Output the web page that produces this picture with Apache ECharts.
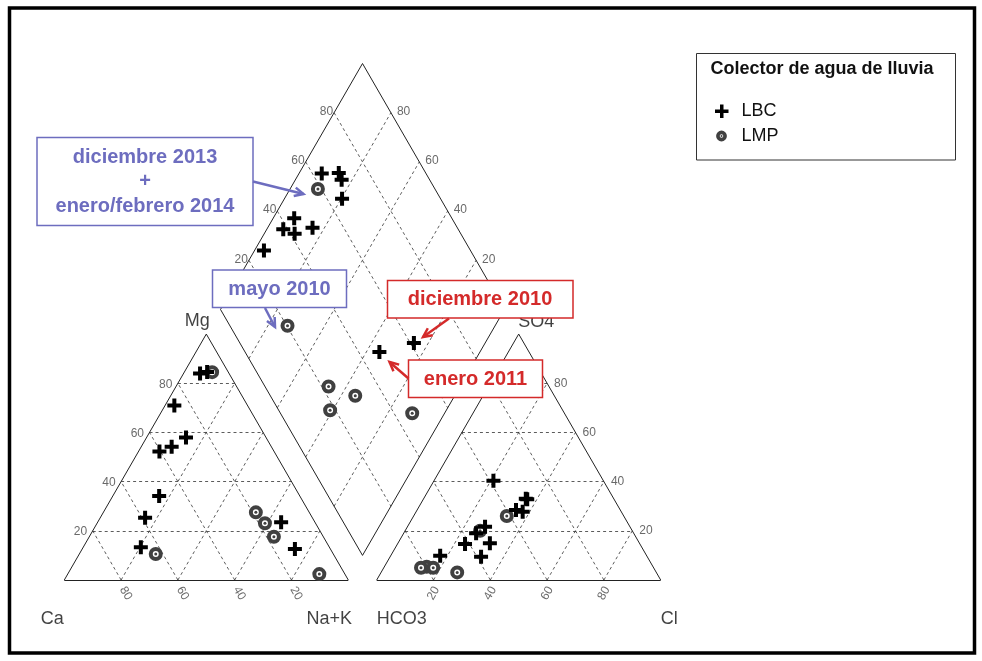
<!DOCTYPE html>
<html>
<head>
<meta charset="utf-8">
<title>Diagrama de Piper - Colector de agua de lluvia</title>
<script src="https://cdn.jsdelivr.net/npm/echarts@6/dist/echarts.min.js"></script>
<style>
  html, body { margin: 0; padding: 0; background: #fff; }
  #chart { width: 982px; height: 661px; }
</style>
</head>
<body>
<div id="chart"></div>
<script>
// Muestras LBC (% meq/L). Ca = 100 - Mg - NaK ; HCO3 = 100 - SO4 - Cl
const lbcMg  = [84.6, 57.9, 34.2, 13.3, 52.2, 84.0, 54.2, 25.3, 70.9, 23.5, 12.6];
const lbcNaK = [8.0, 13.9, 16.3, 20.3, 7.4, 5.8, 10.7, 15.8, 3.3, 64.6, 74.9];
const lbcSO4 = [28.5, 32.8, 33.0, 27.8, 19.0, 14.6, 9.5, 21.7, 9.9, 14.9, 40.4];
const lbcCl  = [34.8, 36.6, 36.0, 37.5, 25.5, 23.8, 32.0, 27.3, 17.4, 32.4, 20.9];

// Muestras LMP
const lmpMg  = [84.5, 10.6, 27.5, 23.1, 17.6, 2.4];
const lmpNaK = [9.8, 26.9, 53.7, 59.1, 65.0, 88.6];
const lmpSO4 = [26.0, 5.4, 5.0, 5.0, 3.1, 20.0];
const lmpCl  = [32.8, 14.9, 17.4, 13.1, 26.8, 26.4];

const tickValues = [20, 40, 60, 80];

// geometria del diagrama (pixeles)
const ORIGIN = [64.3, 580];
const SIDE = 284;
const GAP = 0.1;
const H = Math.sqrt(3) / 2;
const FONT = '"Liberation Sans", Arial, sans-serif';

function toPx(x, y) {
  return [ORIGIN[0] + SIDE * x, ORIGIN[1] - SIDE * y];
}
function cationPt(mg, nak) {
  return toPx(nak / 100 + mg / 200, H * mg / 100);
}
function anionPt(so4, cl) {
  return toPx(1 + GAP + cl / 100 + so4 / 200, H * so4 / 100);
}
function diamondPt(nak, so4, cl) {
  const n = nak / 100, a = (so4 + cl) / 100;
  return toPx((1 + GAP) / 2 + (n + a) / 2, H * (1 + GAP + a - n));
}
function samplePoints(mg, nak, so4, cl) {
  const pts = [];
  mg.forEach(function (m, i) {
    pts.push(cationPt(m, nak[i]));
    pts.push(anionPt(so4[i], cl[i]));
    pts.push(diamondPt(nak[i], so4[i], cl[i]));
  });
  return pts;
}
function seg(p, q) {
  return { coords: [toPx(p[0], p[1]), toPx(q[0], q[1])] };
}

// marcos
const frameSegs = [];
const triangles = [0, 1 + GAP];
triangles.forEach(function (ox) {
  frameSegs.push(seg([ox, 0], [ox + 1, 0]));
  frameSegs.push(seg([ox + 1, 0], [ox + 0.5, H]));
  frameSegs.push(seg([ox + 0.5, H], [ox, 0]));
});
const dc = 1 + GAP / 2;
const dBottom = [dc, H * GAP];
const dLeft = [dc - 0.5, H * (1 + GAP)];
const dTop = [dc, H * (2 + GAP)];
const dRight = [dc + 0.5, H * (1 + GAP)];
frameSegs.push(seg(dBottom, dRight), seg(dRight, dTop), seg(dTop, dLeft), seg(dLeft, dBottom));

// rejilla punteada
const gridSegs = [];
tickValues.forEach(function (t) {
  const v = t / 100;
  triangles.forEach(function (ox) {
    gridSegs.push(seg([ox + v / 2, v * H], [ox + 1 - v / 2, v * H]));
    gridSegs.push(seg([ox + v, 0], [ox + v + (1 - v) / 2, (1 - v) * H]));
    gridSegs.push(seg([ox + 1 - v, 0], [ox + (1 - v) / 2, (1 - v) * H]));
  });
  // rombo
  const c = (1 + GAP) / 2;
  gridSegs.push(seg([c + v / 2, H * (1 + GAP - v)], [c + (v + 1) / 2, H * (2 + GAP - v)]));
  gridSegs.push(seg([c + v / 2, H * (1 + GAP + v)], [c + (v + 1) / 2, H * (GAP + v)]));
});

// etiquetas de los ejes
function textItem(p, dx, dy, txt) {
  return { value: [p[0] + dx, p[1] + dy], name: txt };
}
function textSeries(items, lab) {
  return {
    type: 'scatter',
    symbolSize: 0,
    silent: true,
    z: 6,
    data: items,
    label: Object.assign({
      show: true,
      position: 'inside',
      formatter: '{b}',
      fontFamily: FONT,
      fontSize: 12,
      color: '#444'
    }, lab)
  };
}
const tickRight = [], tickLeft = [], tickCa = [], tickCl = [];
tickValues.forEach(function (t) {
  const v = t / 100;
  tickRight.push(textItem(toPx(v / 2, v * H), -5.5, 1, String(t)));
  tickLeft.push(textItem(toPx(1 + GAP + (1 - v) + v / 2, v * H), 7, 0, String(t)));
  tickCa.push(textItem(toPx(1 - v, 0), 4.7, 13.3, String(t)));
  tickCl.push(textItem(toPx(1 + GAP + v, 0), 0, 13.3, String(t)));
  tickRight.push(textItem(toPx((1 + GAP) / 2 + v / 2, H * (1 + GAP + v)), -1, -1, String(t)));
  const n = 1 - v;
  tickLeft.push(textItem(toPx((1 + GAP) / 2 + (n + 1) / 2, H * (2 + GAP - n)), 6, -1, String(t)));
});
const nameLabels = [
  textItem(toPx(0.5, H), -9, -13, 'Mg'),
  textItem(toPx(0, 0), -12, 39, 'Ca'),
  textItem(toPx(1, 0), -19, 39, 'Na+K'),
  textItem(toPx(1 + GAP + 0.5, H), 17.5, -12.5, 'SO4'),
  textItem(toPx(1 + GAP, 0), 25, 39, 'HCO3'),
  textItem(toPx(2 + GAP, 0), 8.5, 39, 'Cl')
];

const CROSS = 'path://M5,0H9V5H14V9H9V14H5V9H0V5H5Z';

// anotaciones
const BLUE = '#6d6dbf';
const RED = '#d42a2a';
function arrow(from, to, color) {
  const dx = to[0] - from[0], dy = to[1] - from[1];
  const len = Math.sqrt(dx * dx + dy * dy);
  const ux = dx / len, uy = dy / len;
  const L = 10, th = 0.45;
  const h1 = [to[0] - L * (ux * Math.cos(th) - uy * Math.sin(th)), to[1] - L * (uy * Math.cos(th) + ux * Math.sin(th))];
  const h2 = [to[0] - L * (ux * Math.cos(th) + uy * Math.sin(th)), to[1] - L * (uy * Math.cos(th) - ux * Math.sin(th))];
  return [
    { type: 'polyline', z: 100, shape: { points: [from, to] }, style: { stroke: color, lineWidth: 2.5, fill: null } },
    { type: 'polyline', z: 100, shape: { points: [h1, to, h2] }, style: { stroke: color, lineWidth: 2.5, fill: null, lineJoin: 'miter' } }
  ];
}
function box(x, y, w, hgt, color) {
  return { type: 'rect', z: 100, shape: { x: x, y: y, width: w, height: hgt }, style: { fill: '#fff', stroke: color, lineWidth: 1.5 } };
}
function label(x, y, txt, color, font, align) {
  return {
    type: 'text', z: 101, x: x, y: y,
    style: { text: txt, fill: color, font: font, align: align || 'center', verticalAlign: 'middle', textAlign: align || 'center', textVerticalAlign: 'middle' }
  };
}
const boldFont = 'bold 20px ' + FONT;

// cruz de la leyenda
const legendCross = [[5, 0], [8.5, 0], [8.5, 5], [13.5, 5], [13.5, 8.5], [8.5, 8.5], [8.5, 13.5], [5, 13.5], [5, 8.5], [0, 8.5], [0, 5], [5, 5]];

const graphics = [
  { type: 'rect', z: 90, shape: { x: 9.5, y: 8, width: 965, height: 645 }, style: { fill: null, stroke: '#000', lineWidth: 3.5 } },
  box(37, 137.5, 216, 88, BLUE),
  label(145, 157, 'diciembre 2013', BLUE, boldFont),
  label(145, 181.5, '+', BLUE, boldFont),
  label(145, 206, 'enero/febrero 2014', BLUE, boldFont),
  box(212.5, 270, 134, 37.5, BLUE),
  label(279.5, 289, 'mayo 2010', BLUE, boldFont),
  box(387.5, 280.5, 185.5, 37.5, RED),
  label(480, 299.5, 'diciembre 2010', RED, boldFont),
  box(408.5, 360, 134, 37.5, RED),
  label(475.5, 379, 'enero 2011', RED, boldFont),
  // leyenda
  { type: 'rect', z: 100, shape: { x: 696.5, y: 53.5, width: 259, height: 106.5 }, style: { fill: '#fff', stroke: '#333', lineWidth: 1 } },
  label(710.5, 69.5, 'Colector de agua de lluvia', '#111', 'bold 18px ' + FONT, 'left'),
  { type: 'polygon', z: 101, x: 715, y: 104.5, shape: { points: legendCross }, style: { fill: '#000' } },
  label(741.5, 111.5, 'LBC', '#111', '18px ' + FONT, 'left'),
  { type: 'circle', z: 101, shape: { cx: 721.5, cy: 136, r: 3.6 }, style: { fill: '#fff', stroke: '#404040', lineWidth: 3.6 } },
  { type: 'circle', z: 102, shape: { cx: 721.5, cy: 136, r: 1 }, style: { fill: '#404040' } },
  label(741.5, 136.5, 'LMP', '#111', '18px ' + FONT, 'left')
]
  .concat(arrow([253, 181.5], [303.5, 194], BLUE))
  .concat(arrow([265, 308], [275, 327], BLUE))
  .concat(arrow([449, 318.5], [423, 337], RED))
  .concat(arrow([408.5, 378.5], [389.5, 362], RED));

const lbcPts = samplePoints(lbcMg, lbcNaK, lbcSO4, lbcCl);
const lmpPts = samplePoints(lmpMg, lmpNaK, lmpSO4, lmpCl);

const chart = echarts.init(document.getElementById('chart'));
chart.setOption({
  animation: false,
  backgroundColor: '#fff',
  grid: { left: 0, right: 0, top: 0, bottom: 0 },
  xAxis: { type: 'value', min: 0, max: 982, show: false },
  yAxis: { type: 'value', min: 0, max: 661, inverse: true, show: false },
  series: [
    {
      type: 'lines', coordinateSystem: 'cartesian2d', silent: true, z: 1,
      data: gridSegs,
      lineStyle: { color: '#333', width: 0.8, type: [3, 3], opacity: 1 }
    },
    {
      type: 'lines', coordinateSystem: 'cartesian2d', silent: true, z: 2,
      data: frameSegs,
      lineStyle: { color: '#222', width: 1, opacity: 1 }
    },
    {
      name: 'LMP', type: 'scatter', z: 3,
      data: lmpPts, symbol: 'circle', symbolSize: 10,
      itemStyle: { color: '#fff', borderColor: '#404040', borderWidth: 4, opacity: 1 }
    },
    {
      name: 'LMP centro', type: 'scatter', z: 4, silent: true,
      data: lmpPts, symbol: 'circle', symbolSize: 3,
      itemStyle: { color: '#404040', opacity: 1 }
    },
    {
      name: 'LBC', type: 'scatter', z: 5,
      data: lbcPts, symbol: CROSS, symbolSize: 14,
      itemStyle: { color: '#000', opacity: 1 }
    },
    textSeries(tickRight, { align: 'right' }),
    textSeries(tickLeft, { align: 'left' }),
    textSeries(tickCa, { rotate: -60 }),
    textSeries(tickCl, { rotate: 60 }),
    textSeries(nameLabels, { fontSize: 18, color: '#111' })
  ],
  graphic: { elements: graphics }
});

window.addEventListener('resize', function () {
  chart.resize();
});
</script>
</body>
</html>
